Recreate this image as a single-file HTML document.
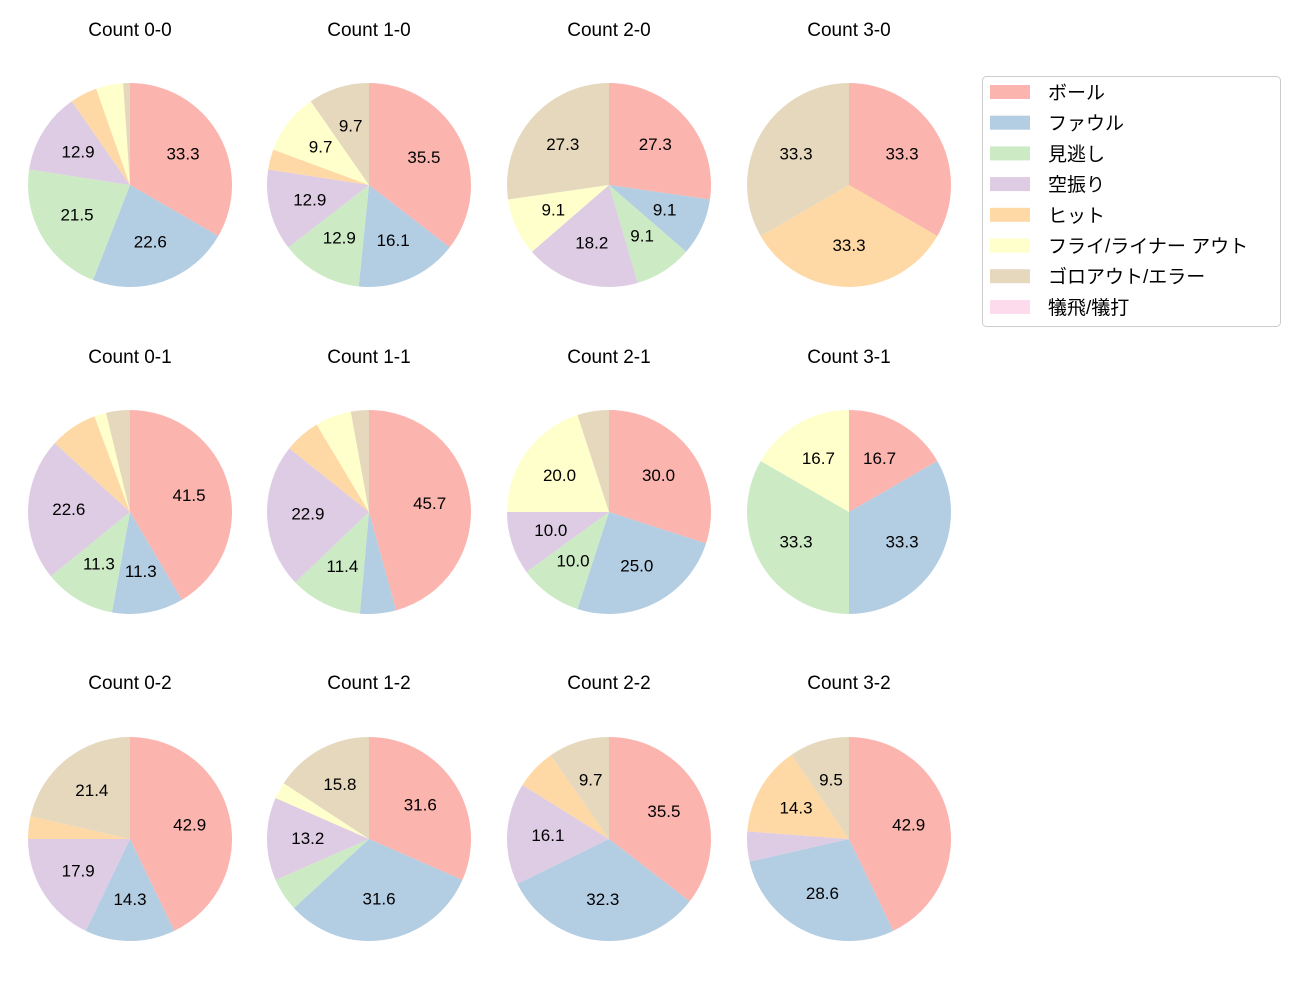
<!DOCTYPE html>
<html><head><meta charset="utf-8"><style>
body{margin:0;background:#fff;}
svg{font-family:"Liberation Sans","Noto Sans CJK JP",sans-serif;}
</style></head><body>
<svg id="chart" width="1300" height="1000"></svg>
<script>
const categories=["ボール","ファウル","見逃し","空振り","ヒット","フライ/ライナー アウト","ゴロアウト/エラー","犠飛/犠打"];
const colors=["#fbb4ae","#b3cde3","#ccebc5","#decbe4","#fed9a6","#ffffcc","#e5d8bd","#fddaec"];
const titles=["Count 0-0","Count 1-0","Count 2-0","Count 3-0","Count 0-1","Count 1-1","Count 2-1","Count 3-1","Count 0-2","Count 1-2","Count 2-2","Count 3-2"];
const c00=[31,21,20,12,4,4,1,0];
const c10=[11,5,4,4,1,3,3,0];
const c20=[3,1,1,2,0,1,3,0];
const c30=[1,0,0,0,1,0,1,0];
const c01=[22,6,6,12,4,1,2,0];
const c11=[16,2,4,8,2,2,1,0];
const c21=[6,5,2,2,0,4,1,0];
const c31=[1,2,2,0,0,1,0,0];
const c02=[12,4,0,5,1,0,6,0];
const c12=[12,12,2,5,0,1,6,0];
const c22=[11,10,0,5,2,0,3,0];
const c32=[9,6,0,1,3,0,2,0];
const series=[c00,c10,c20,c30,c01,c11,c21,c31,c02,c12,c22,c32];
const NS="http://www.w3.org/2000/svg";
const svg=document.getElementById("chart");
function mk(t,a){const e=document.createElementNS(NS,t);for(const k in a)e.setAttribute(k,a[k]);return e;}
const colX=[130,369,609,849],rowY=[185,512,839],R=102,titleY=[29,356,682];
series.forEach((vals,i)=>{
  const cx=colX[i%4],cy=rowY[Math.floor(i/4)];
  const g=mk("g",{});
  
  
  svg.appendChild(g);
  const t=mk("text",{x:cx,y:titleY[Math.floor(i/4)]+7,"text-anchor":"middle","font-size":"19",fill:"#000"});
  t.textContent=titles[i];
  
  
  g.appendChild(t);
  const tot=vals.reduce((a,b)=>a+b,0);
  let ang=90;
  vals.forEach((v,j)=>{
    if(v<=0)return;
    const sweep=v/tot*360;
    const a0=ang*Math.PI/180,a1=(ang-sweep)*Math.PI/180;
    const x0=cx+R*Math.cos(a0),y0=cy-R*Math.sin(a0),x1=cx+R*Math.cos(a1),y1=cy-R*Math.sin(a1);
    let el;
    if(sweep>=359.99){el=mk("circle",{cx:cx,cy:cy,r:R,fill:colors[j]});}
    else el=mk("path",{d:`M${cx},${cy} L${x0},${y0} A${R},${R} 0 ${sweep>180?1:0} 1 ${x1},${y1} Z`,fill:colors[j]});
    
    
    g.appendChild(el);
    const pct=v/tot*100;
    if(pct>8){
      const am=(ang-sweep/2)*Math.PI/180;
      const lt=mk("text",{x:cx+0.6*R*Math.cos(am),y:cy-0.6*R*Math.sin(am)+5,"text-anchor":"middle","font-size":"17",fill:"#000"});
      lt.textContent=pct.toFixed(1);
      
      
      g.appendChild(lt);
    }
    ang-=sweep;
  });
});
const lg=mk("g",{});


svg.appendChild(lg);
lg.appendChild(mk("rect",{x:982.5,y:76.5,width:298,height:250,rx:4,fill:"#fff",stroke:"#ccc"}));
categories.forEach((c,k)=>{
  const y=92+k*30.7;
  const p=mk("rect",{x:990,y:y-7,width:40,height:14,fill:colors[k]});
  
  
  lg.appendChild(p);
  const t=mk("text",{x:1048,y:y+7,"font-size":"19",fill:"#000"});
  t.textContent=c;
  
  
  lg.appendChild(t);
});
</script>
</body></html>
